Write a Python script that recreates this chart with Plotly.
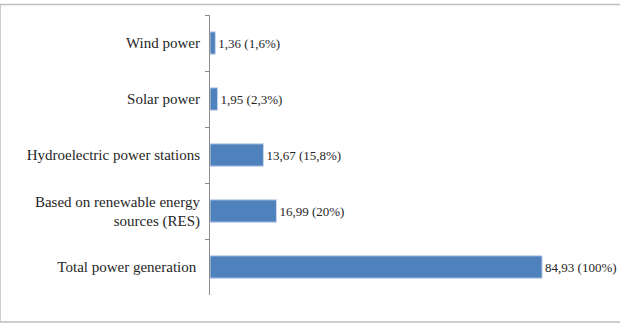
import plotly.graph_objects as go

categories = ["Wind power", "Solar power", "Hydroelectric power stations",
              "Based on renewable energy<br>sources (RES)", "Total power generation "]
values = [1.36, 1.95, 13.67, 16.99, 84.93]
labels = ["1,36 (1,6%)", "1,95 (2,3%)", "13,67 (15,8%)", "16,99 (20%)", "84,93 (100%)"]

SERIF = "Liberation Serif"

fig = go.Figure(go.Bar(
    y=categories, x=values, orientation="h",
    text=labels, textposition="outside", cliponaxis=False,
    textfont=dict(family=SERIF, size=13, color="#262626"),
    marker=dict(color="#4F81BD", line=dict(color="#c9d6ea", width=1)),
    width=0.4,
))

fig.update_layout(
    width=620, height=324,
    margin=dict(l=210, r=19, t=15, b=29),
    paper_bgcolor="white", plot_bgcolor="white",
    showlegend=False,
    font=dict(family=SERIF, size=15, color="#262626"),
    xaxis=dict(range=[0, 100], visible=False, showgrid=False, zeroline=False),
    yaxis=dict(categoryorder="array", categoryarray=categories, autorange="reversed",
               showline=True, linecolor="#8c8c8c", linewidth=1,
               ticks="outside", ticklen=4, tickcolor="#8c8c8c", tickson="boundaries",
               showgrid=False, ticklabelstandoff=6,
               tickfont=dict(family=SERIF, size=15, color="#262626")),
    shapes=[dict(type="rect", xref="paper", yref="paper",
                 x0=-210/391, x1=1.06, y0=-27/280, y1=1 + 10.5/280,
                 line=dict(color="#bfbfbf", width=1.5))],
)

fig.write_html("out.html")
